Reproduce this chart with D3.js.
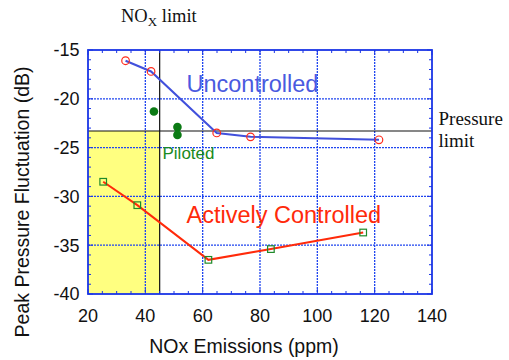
<!DOCTYPE html>
<html>
<head>
<meta charset="utf-8">
<script src="https://cdn.jsdelivr.net/npm/d3@7/dist/d3.min.js"></script>
<style>
  html, body { margin: 0; padding: 0; background: #fff; }
  svg { display: block; }
</style>
</head>
<body>
<svg id="chart" width="509" height="360"></svg>
<script>
// ---- data ----
const uncontrolledX = [33.1, 42.0, 64.9, 76.7, 121.5];
const uncontrolledY = [-16.1, -17.2, -23.5, -23.9, -24.2];
const pilotedX = [43.0, 51.2, 51.2];
const pilotedY = [-21.3, -22.9, -23.7];
const activeX = [25.3, 37.2, 62.0, 83.8, 116.0];
const activeY = [-28.5, -30.9, -36.5, -35.4, -33.7];
const noxLimit = 45;
const pressureLimit = -23.3;
const xTicks = [20, 40, 60, 80, 100, 120, 140];
const yTicks = [-40, -35, -30, -25, -20, -15];

// ---- layout ----
const svg = d3.select("#chart");
const L = 88, R = 432, T = 50, B = 294;
const x = d3.scaleLinear().domain([20, 140]).range([L, R]);
const y = d3.scaleLinear().domain([-40, -15]).range([B, T]);
const sans = "'Liberation Sans', Arial, Helvetica, sans-serif";
const serif = "'Liberation Serif', 'Times New Roman', Times, serif";
const frameBlue = "#1a35e6";

svg.append("rect").attr("width", 509).attr("height", 360).attr("fill", "#fff");

// yellow region
svg.append("rect")
  .attr("x", x(20)).attr("y", y(pressureLimit))
  .attr("width", x(noxLimit) - x(20)).attr("height", y(-40) - y(pressureLimit))
  .attr("fill", "#ffff80");

// grid
const grid = svg.append("g").attr("stroke", "#1f45f0").attr("stroke-width", 1.3)
  .attr("stroke-dasharray", "2,1");
xTicks.slice(1, -1).forEach(v => grid.append("line")
  .attr("x1", x(v)).attr("x2", x(v)).attr("y1", T).attr("y2", B));
yTicks.slice(1, -1).forEach(v => grid.append("line")
  .attr("x1", L).attr("x2", R).attr("y1", y(v)).attr("y2", y(v)));

// limit lines
svg.append("line").attr("x1", x(noxLimit)).attr("x2", x(noxLimit))
  .attr("y1", T).attr("y2", B).attr("stroke", "#111").attr("stroke-width", 1.2);
svg.append("line").attr("x1", L).attr("x2", R)
  .attr("y1", y(pressureLimit)).attr("y2", y(pressureLimit))
  .attr("stroke", "#111").attr("stroke-width", 1.2);

// axes with inward ticks
const minorX = d3.range(20, 140.01, 5);
const minorY = d3.range(-40, -14.99, 1);
const tk = svg.append("g").attr("stroke", frameBlue).attr("stroke-width", 1);
minorX.forEach(v => {
  const len = (v % 20 === 0) ? 5 : 3;
  tk.append("line").attr("x1", x(v)).attr("x2", x(v)).attr("y1", B).attr("y2", B - len);
  tk.append("line").attr("x1", x(v)).attr("x2", x(v)).attr("y1", T).attr("y2", T + len);
});
minorY.forEach(v => {
  const len = (v % 5 === 0) ? 5 : 3;
  tk.append("line").attr("x1", L).attr("x2", L + len).attr("y1", y(v)).attr("y2", y(v));
  tk.append("line").attr("x1", R).attr("x2", R - len).attr("y1", y(v)).attr("y2", y(v));
});
svg.append("rect").attr("x", L).attr("y", T).attr("width", R - L).attr("height", B - T)
  .attr("fill", "none").attr("stroke", frameBlue).attr("stroke-width", 1.8);

// tick labels
svg.append("g").selectAll("text").data(xTicks).join("text")
  .attr("x", d => x(d)).attr("y", 321.5).attr("text-anchor", "middle")
  .attr("font-family", sans).attr("font-size", 18).attr("fill", "#111").text(d => d);
svg.append("g").selectAll("text").data(yTicks).join("text")
  .attr("x", 79.5).attr("y", d => y(d)).attr("dy", "0.36em").attr("text-anchor", "end")
  .attr("font-family", sans).attr("font-size", 18).attr("fill", "#111").text(d => d);

// axis titles
svg.append("text").attr("x", 244).attr("y", 352.5).attr("text-anchor", "middle")
  .attr("font-family", sans).attr("font-size", 19.5).attr("fill", "#111")
  .text("NOx Emissions (ppm)");
svg.append("text").attr("transform", "translate(29,202) rotate(-90)")
  .attr("text-anchor", "middle").attr("font-family", sans).attr("font-size", 19.5)
  .attr("fill", "#111").text("Peak Pressure Fluctuation (dB)");

// limit labels
const nox = svg.append("text").attr("x", 121).attr("y", 22)
  .attr("font-family", serif).attr("font-size", 18.5).attr("fill", "#111");
nox.append("tspan").text("NO");
nox.append("tspan").attr("dy", 4).attr("font-size", 13).text("X");
nox.append("tspan").attr("dy", -4).text(" limit");
svg.append("text").attr("x", 438.5).attr("y", 125)
  .attr("font-family", serif).attr("font-size", 19).attr("fill", "#111").text("Pressure");
svg.append("text").attr("x", 438.5).attr("y", 147.3)
  .attr("font-family", serif).attr("font-size", 19).attr("fill", "#111").text("limit");

// series
const line = d3.line().x(d => x(d[0])).y(d => y(d[1]));
const unc = uncontrolledX.map((v, i) => [v, uncontrolledY[i]]);
const act = activeX.map((v, i) => [v, activeY[i]]);
const pil = pilotedX.map((v, i) => [v, pilotedY[i]]);

svg.append("path").datum(unc).attr("d", line).attr("fill", "none")
  .attr("stroke", "#4150dc").attr("stroke-width", 2);
svg.append("path").datum(act).attr("d", line).attr("fill", "none")
  .attr("stroke", "#ff2a0a").attr("stroke-width", 2);

svg.append("g").selectAll("circle").data(unc).join("circle")
  .attr("cx", d => x(d[0])).attr("cy", d => y(d[1])).attr("r", 3.8)
  .attr("fill", "none").attr("stroke", "#ff2a1a").attr("stroke-width", 1.2);
svg.append("g").selectAll("rect").data(act).join("rect")
  .attr("x", d => x(d[0]) - 3.3).attr("y", d => y(d[1]) - 3.3)
  .attr("width", 6.6).attr("height", 6.6)
  .attr("fill", "none").attr("stroke", "#1f8a2a").attr("stroke-width", 1.2);
svg.append("g").selectAll("circle").data(pil).join("circle")
  .attr("cx", d => x(d[0])).attr("cy", d => y(d[1])).attr("r", 4.3)
  .attr("fill", "#0b7a14");

// series labels
svg.append("text").attr("x", 186.5).attr("y", 92.3)
  .attr("font-family", sans).attr("font-size", 23.5).attr("fill", "#4a5ae0")
  .text("Uncontrolled");
svg.append("text").attr("x", 186.5).attr("y", 223.3)
  .attr("font-family", sans).attr("font-size", 23.5).attr("fill", "#ff2a0a")
  .text("Actively Controlled");
svg.append("text").attr("x", 162.5).attr("y", 159.3)
  .attr("font-family", sans).attr("font-size", 17).attr("fill", "#1a8a22")
  .text("Piloted");
</script>
</body>
</html>
